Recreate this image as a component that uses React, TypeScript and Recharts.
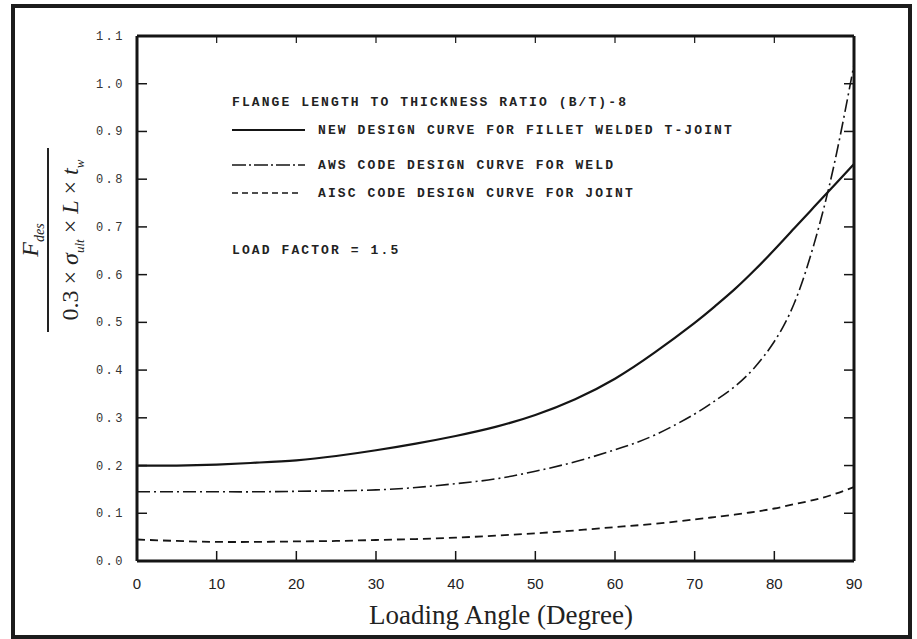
import React from "react";
import { LineChart, Line, XAxis, YAxis } from "recharts";

// loading angle (deg)
const angles = [0, 5, 10, 15, 20, 25, 30, 35, 40, 45, 50, 55, 60, 65, 70, 72.5, 75, 77.5, 80, 82.5, 85, 87.5, 90];
// new design curve for fillet welded T-joint
const newDesign = [0.2, 0.2, 0.202, 0.206, 0.211, 0.22, 0.232, 0.246, 0.262, 0.281, 0.306, 0.339, 0.382, 0.437, 0.499, 0.533, 0.569, 0.609, 0.652, 0.697, 0.742, 0.787, 0.832];
// AWS code design curve for weld
const aws = [0.145, 0.145, 0.145, 0.145, 0.146, 0.147, 0.149, 0.154, 0.162, 0.172, 0.188, 0.208, 0.233, 0.264, 0.308, 0.335, 0.365, 0.405, 0.46, 0.54, 0.665, 0.83, 1.04];
// AISC code design curve for joint
const aisc = [0.045, 0.042, 0.04, 0.04, 0.041, 0.042, 0.044, 0.046, 0.049, 0.053, 0.058, 0.064, 0.071, 0.078, 0.087, 0.092, 0.097, 0.103, 0.11, 0.119, 0.128, 0.14, 0.155];

const xTicks = [0, 10, 20, 30, 40, 50, 60, 70, 80, 90];
const yTicks = [0, 0.1, 0.2, 0.3, 0.4, 0.5, 0.6, 0.7, 0.8, 0.9, 1.0, 1.1];

const data = angles.map((a, i) => ({
  angle: a,
  newDesign: newDesign[i],
  aws: aws[i],
  aisc: aisc[i],
}));

const mono = "'Liberation Mono', 'DejaVu Sans Mono', monospace";
const ink = "#151515";

const LeftTick = (props: any) => {
  const { x, y, payload } = props;
  return (
    <text
      x={x}
      y={y}
      dy={4}
      textAnchor="end"
      fontFamily={mono}
      fontSize={12}
      letterSpacing={2.5}
      fill="#333"
    >
      {payload.value.toFixed(1)}
    </text>
  );
};

const BottomTick = (props: any) => {
  const { x, y, payload } = props;
  return (
    <text
      x={x}
      y={y}
      dy={12}
      textAnchor="middle"
      fontFamily="'Liberation Sans', Arial, sans-serif"
      fontSize={15}
      fill="#222"
    >
      {payload.value}
    </text>
  );
};

const NoLabel = () => <g />;

const axisLine = { stroke: ink, strokeWidth: 3 };
const tickLine = { stroke: ink, strokeWidth: 1.5 };

function Overlay() {
  const textProps = {
    fontFamily: mono,
    fontSize: 13,
    letterSpacing: 2.1,
    fontWeight: 600,
    fill: "#222",
  };
  return (
    <svg
      width={917}
      height={639}
      style={{ position: "absolute", left: 0, top: 0, pointerEvents: "none" }}
    >
      <text x={232} y={106} {...textProps}>FLANGE LENGTH TO THICKNESS RATIO (B/T)-8</text>
      <line x1={232} x2={305} y1={130} y2={130} stroke={ink} strokeWidth={1.8} />
      <text x={318} y={134} {...textProps}>NEW DESIGN CURVE FOR FILLET WELDED T-JOINT</text>
      <line x1={232} x2={305} y1={165} y2={165} stroke={ink} strokeWidth={1.6} strokeDasharray="14 3 2 3" />
      <text x={318} y={169} {...textProps}>AWS CODE DESIGN CURVE FOR WELD</text>
      <line x1={232} x2={302} y1={193} y2={193} stroke={ink} strokeWidth={1.6} strokeDasharray="6 4" />
      <text x={318} y={197} {...textProps}>AISC CODE DESIGN CURVE FOR JOINT</text>
      <text x={232} y={254} {...textProps}>LOAD FACTOR = 1.5</text>

      <g transform="translate(48,240) rotate(-90)" fontFamily="'Liberation Serif', 'Times New Roman', serif" fill="#222">
        <line x1={-92} x2={92} y1={0} y2={0} stroke="#222" strokeWidth={2} />
        <text x={0} y={-10} textAnchor="middle" fontSize={24} fontStyle="italic">
          F
          <tspan fontSize={14} dy={6}>des</tspan>
        </text>
        <text x={0} y={30} textAnchor="middle" fontSize={24}>
          0.3 ×{" "}
          <tspan fontStyle="italic">σ</tspan>
          <tspan fontSize={13} dy={6} fontStyle="italic">ult</tspan>
          <tspan dy={-6}> × </tspan>
          <tspan fontStyle="italic">L</tspan>
          <tspan> × </tspan>
          <tspan fontStyle="italic">t</tspan>
          <tspan fontSize={13} dy={6} fontStyle="italic">w</tspan>
        </text>
      </g>

      <text
        x={501}
        y={624}
        textAnchor="middle"
        fontFamily="'Liberation Serif', 'Times New Roman', serif"
        fontSize={27}
        fill="#222"
      >
        Loading Angle (Degree)
      </text>
    </svg>
  );
}

export default function App() {
  return (
    <div style={{ position: "absolute", left: 0, top: 0, width: 917, height: 639, background: "#fff", overflow: "hidden" }}>
      <div
        style={{
          position: "absolute",
          left: 11,
          top: 4,
          width: 901,
          height: 635,
          boxSizing: "border-box",
          border: "4px solid #1c1c1c",
        }}
      />
      <div style={{ position: "absolute", left: 0, top: 0 }}>
        <LineChart
          width={917}
          height={639}
          data={data}
          margin={{ top: 35, right: 62, bottom: 48, left: 97 }}
        >
          <XAxis
            xAxisId="b"
            dataKey="angle"
            type="number"
            domain={[0, 90]}
            ticks={xTicks}
            height={30}
            tickSize={-10}
            tickMargin={26}
            axisLine={axisLine}
            tickLine={tickLine}
            tick={<BottomTick />}
            interval={0}
          />
          <XAxis
            xAxisId="t"
            orientation="top"
            dataKey="angle"
            type="number"
            domain={[0, 90]}
            ticks={xTicks}
            height={1}
            tickSize={-7}
            tickMargin={0}
            axisLine={axisLine}
            tickLine={{ stroke: ink, strokeWidth: 1.2 }}
            tick={<NoLabel />}
            interval={0}
          />
          <YAxis
            yAxisId="l"
            type="number"
            domain={[0, 1.1]}
            ticks={yTicks}
            width={40}
            tickSize={-10}
            tickMargin={22}
            axisLine={axisLine}
            tickLine={tickLine}
            tick={<LeftTick />}
            interval={0}
          />
          <YAxis
            yAxisId="r"
            orientation="right"
            type="number"
            domain={[0, 1.1]}
            ticks={yTicks}
            width={1}
            tickSize={-10}
            tickMargin={0}
            axisLine={axisLine}
            tickLine={tickLine}
            tick={<NoLabel />}
            interval={0}
          />
          <Line
            xAxisId="b"
            yAxisId="l"
            type="natural"
            dataKey="newDesign"
            stroke={ink}
            strokeWidth={2.2}
            dot={false}
            isAnimationActive={false}
          />
          <Line
            xAxisId="t"
            yAxisId="r"
            type="natural"
            dataKey="aws"
            stroke={ink}
            strokeWidth={1.6}
            strokeDasharray="13 4 2 4"
            dot={false}
            isAnimationActive={false}
          />
          <Line
            xAxisId="b"
            yAxisId="r"
            type="natural"
            dataKey="aisc"
            stroke={ink}
            strokeWidth={1.8}
            strokeDasharray="8 5"
            dot={false}
            isAnimationActive={false}
          />
        </LineChart>
      </div>
      <Overlay />
    </div>
  );
}
